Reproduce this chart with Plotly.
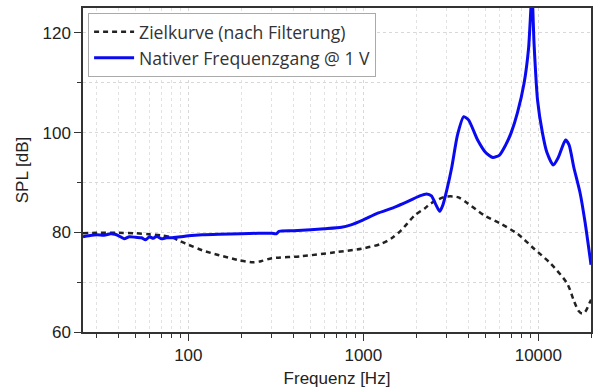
import plotly.graph_objects as go

# Nativer Frequenzgang @ 1 V
f_native = [25, 27, 30, 33, 36, 38, 40, 43, 46, 50, 54, 57, 60, 63, 66, 70, 75, 80, 90,
            100, 120, 150, 200, 250, 300, 318, 330, 400, 500, 600, 750, 850, 1000, 1200,
            1500, 1800, 2100, 2300, 2450, 2600, 2730, 2850, 3000, 3200, 3450, 3750, 4000,
            4500, 5000, 5500, 6000, 6500, 7000, 7600, 8300, 8800, 9200, 9450, 9900, 10550,
            11200, 12170, 13000, 14300, 15000, 15960, 17350, 18500, 20000]
spl_native = [79.1, 79.3, 79.5, 79.4, 79.7, 79.6, 79.3, 78.7, 79.1, 79.0, 78.9, 78.5, 79.1,
              78.8, 79.2, 78.7, 78.9, 78.9, 79.1, 79.3, 79.5, 79.6, 79.7, 79.8, 79.8, 79.7,
              80.2, 80.3, 80.5, 80.7, 81.0, 81.5, 82.5, 83.8, 85.0, 86.2, 87.3, 87.7, 87.3,
              85.5, 84.2, 85.5, 88.5, 93.0, 99.5, 103.2, 102.5, 98.5, 96.0, 95.0, 95.5, 97.5,
              100.0, 104.0, 110.0, 117.0, 128.0, 118.0, 106.5, 100.0, 96.0, 93.5, 95.0, 98.5,
              97.5, 93.0, 87.8, 82.0, 73.5]

# Zielkurve (nach Filterung)
f_target = [25, 30, 40, 50, 60, 70, 80, 90, 100, 120, 150, 190, 230, 260, 300, 444, 690,
            975, 1266, 1450, 1644, 1966, 2243, 2432, 2911, 3246, 3500, 3950, 4915, 6110,
            7600, 9460, 11780, 14630, 15960, 17000, 17780, 18500, 19730, 20000]
spl_target = [79.8, 79.9, 79.9, 79.8, 79.6, 79.4, 79.0, 78.2, 77.5, 76.4, 75.4, 74.5, 74.0,
              74.2, 74.8, 75.2, 76.0, 76.7, 77.7, 78.8, 80.4, 83.4, 84.8, 85.8, 87.1, 87.2,
              87.0, 85.8, 83.4, 81.7, 79.7, 76.7, 73.7, 69.7, 66.3, 64.2, 63.7, 64.0, 66.0, 66.5]

x_ticks = [100, 1000, 10000]
x_ticktext = ["100", "1000", "10000"]
y_ticks = [60, 80, 100, 120]

fig = go.Figure()
fig.add_trace(go.Scatter(x=f_target, y=spl_target, mode="lines",
                         name="Zielkurve (nach Filterung)",
                         line=dict(color="#222222", width=2.5, dash="5px,4px",
                                   shape="spline", smoothing=0.8)))
fig.add_trace(go.Scatter(x=f_native, y=spl_native, mode="lines",
                         name="Nativer Frequenzgang @ 1 V",
                         line=dict(color="#0a0af0", width=3, shape="spline", smoothing=0.6)))

axis_font = dict(family="Liberation Sans, Arial", size=17, color="#222222")
fig.update_layout(
    width=595, height=391,
    margin=dict(l=83, r=2, t=8, b=59),
    paper_bgcolor="white", plot_bgcolor="white",
    showlegend=True,
    legend=dict(x=0.01, y=0.985, xanchor="left", yanchor="top",
                bgcolor="white", bordercolor="#aaaaaa", borderwidth=1,
                font=dict(family="Open Sans", size=17.6, color="#333333"),
                itemwidth=40, tracegroupgap=0),
    xaxis=dict(type="log", range=[1.39794, 4.30103],
               tickvals=x_ticks, ticktext=x_ticktext,
               ticks="outside", ticklen=7, tickwidth=1.2, tickcolor="#333333",
               showline=True, linecolor="#333333", linewidth=1.5, mirror=True,
               showgrid=True, gridcolor="#d8d8d8", griddash="dot", gridwidth=1,
               minor=dict(dtick="D1", ticks="outside", ticklen=4, tickcolor="#333333",
                          showgrid=True, gridcolor="#e2e2e2", griddash="dot"),
               tickfont=axis_font, zeroline=False,
               title=dict(text="Frequenz [Hz]", font=axis_font, standoff=8)),
    yaxis=dict(range=[60, 125], tickvals=y_ticks,
               ticks="outside", ticklen=7, tickwidth=1.2, tickcolor="#333333",
               showline=True, linecolor="#333333", linewidth=1.5, mirror=True,
               showgrid=True, gridcolor="#d8d8d8", griddash="dot",
               minor=dict(dtick=10, ticks="outside", ticklen=4, tickcolor="#333333",
                          showgrid=True, gridcolor="#d8d8d8", griddash="dot"),
               tickfont=axis_font, zeroline=False,
               title=dict(text="SPL [dB]", font=axis_font, standoff=10)),
)

fig.write_html("out.html")
